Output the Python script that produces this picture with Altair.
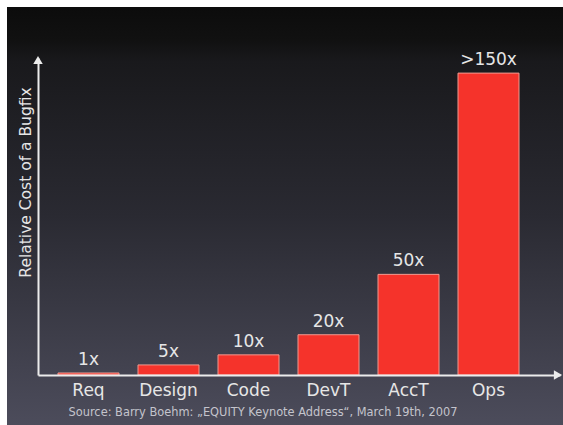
import altair as alt
import pandas as pd

stages = ["Req", "Design", "Code", "DevT", "AccT", "Ops"]
costs = [1, 5, 10, 20, 50, 150]
labels = ["1x", "5x", "10x", "20x", "50x", ">150x"]
y_title = "Relative Cost of a Bugfix"
source_note = "Source: Barry Boehm: \u201eEQUITY Keynote Address\u201c, March 19th, 2007"

df = pd.DataFrame({"stage": stages, "cost": costs, "label": labels})

W, H = 522, 317
FONT = "DejaVu Sans"
TXT = "#e6e6e6"
LINE = "#ececec"

one = alt.Data(values=[{}])

bg = alt.Chart(one).mark_rect(
    color=alt.Gradient(
        gradient="linear",
        stops=[
            alt.GradientStop(color="#0c0c0c", offset=0),
            alt.GradientStop(color="#111111", offset=0.08),
            alt.GradientStop(color="#19191c", offset=0.13),
            alt.GradientStop(color="#2a2a32", offset=0.5),
            alt.GradientStop(color="#4c4c5b", offset=1),
        ],
        x1=0, x2=0, y1=0, y2=1,
    )
).encode(x=alt.value(-31), x2=alt.value(W + 3), y=alt.value(-51), y2=alt.value(H + 50))

x_enc = alt.X(
    "stage:N",
    sort=stages,
    scale=alt.Scale(paddingInner=0.2375, paddingOuter=0.38125, align=0.328),
    axis=alt.Axis(
        title=None, domainColor=LINE, domainWidth=2, ticks=False, labelAngle=0,
        labelFont=FONT, labelFontSize=17, labelColor=TXT, labelPadding=7,
        labelBaseline="top", zindex=1,
    ),
)
y_enc = alt.Y(
    "cost:Q",
    scale=alt.Scale(domain=[0, 157.5], nice=False),
    axis=alt.Axis(
        title=y_title, labels=False, ticks=False, grid=False,
        domainColor=LINE, domainWidth=2,
        titleX=-13, titleY=124, titleAngle=-90, titleAlign="center",
        titleBaseline="middle", titleFont=FONT, titleFontSize=15.5,
        titleFontWeight="normal", titleColor=TXT, zindex=1,
    ),
)

base = alt.Chart(df)
bars = base.mark_bar(color="#f5332b", stroke="#f09a90", strokeWidth=1).encode(x=x_enc, y=y_enc)
vals = base.mark_text(
    baseline="bottom", dy=-4, font=FONT, fontSize=17, color=TXT
).encode(x=x_enc, y=y_enc, text="label:N")

arrow_up = alt.Chart(one).mark_point(
    shape="triangle-up", filled=True, size=90, color=LINE, opacity=1
).encode(x=alt.value(0), y=alt.value(2))
arrow_right = alt.Chart(one).mark_point(
    shape="triangle-right", filled=True, size=90, color=LINE, opacity=1
).encode(x=alt.value(W - 2), y=alt.value(H))

source = alt.Chart(one).mark_text(
    text=source_note, font=FONT, fontSize=11.4, color="#c4c4cc",
    align="center", baseline="middle",
).encode(x=alt.value(263 - 38), y=alt.value(413 - 58))

chart = alt.layer(bg, bars, vals, arrow_up, arrow_right, source).properties(
    width=W, height=H,
    padding={"left": 38, "top": 58, "right": 3, "bottom": 50},
    autosize=alt.AutoSizeParams(type="none"),
    background="white",
).configure_view(stroke=None, fill=None)

chart.save("out.html", embed_options={"renderer": "svg", "actions": False})
